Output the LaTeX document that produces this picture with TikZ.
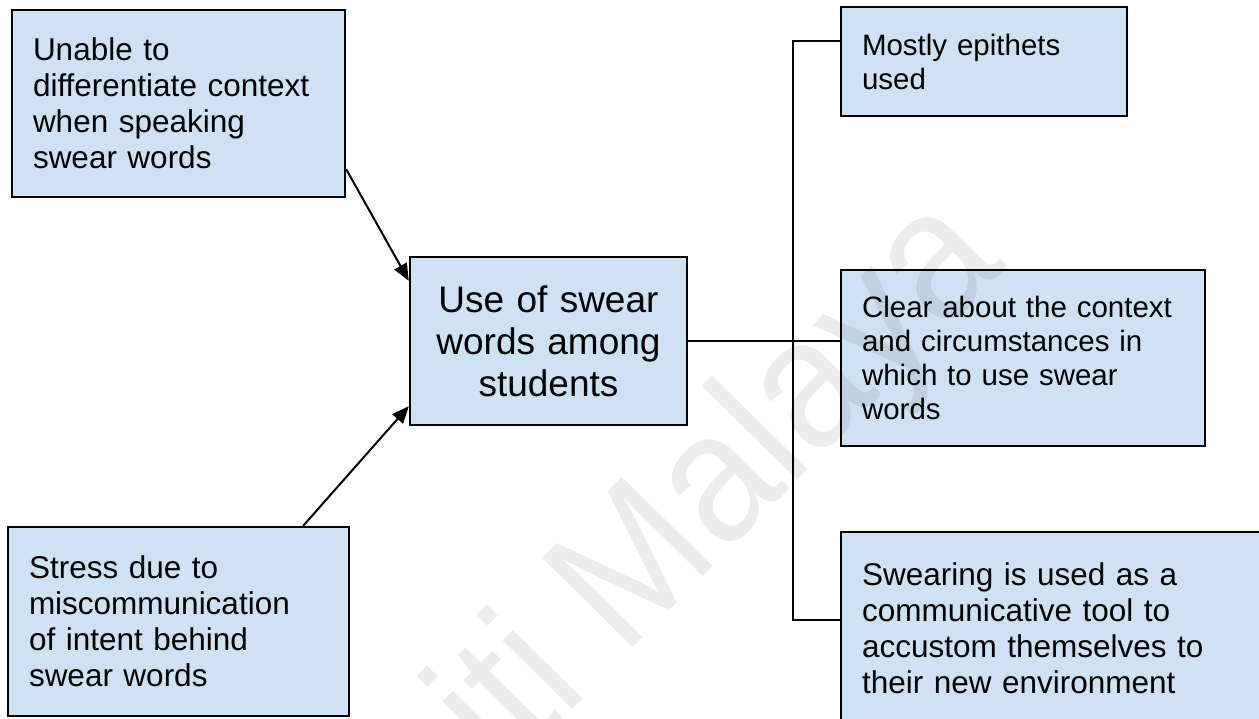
\documentclass[tikz,border=0pt]{standalone}
\usepackage{fontspec}
\setmainfont{Liberation Sans}
\newfontfamily\wmfont[FakeStretch=0.92]{Liberation Sans}
\usetikzlibrary{arrows.meta,calc}
\definecolor{boxblue}{HTML}{CFE2F3}
\begin{document}
\begin{tikzpicture}[x=1pt,y=-1pt,
  box/.style={draw=black, line width=2.4pt, fill=boxblue, inner xsep=21pt, inner ysep=0pt, align=left},
  conn/.style={line width=2pt, black},
  arr/.style={conn, -{Triangle[length=17pt,width=14pt]}},
  lfont/.style={font=\fontsize{31.5}{36}\selectfont},
  rfont/.style={font=\fontsize{29.5}{34}\selectfont},
  watermark/.style={rotate=45.5, anchor=base east, text=black, opacity=0.075, font=\wmfont\fontsize{185}{185}\selectfont}]
\fill[white] (0,0) rectangle (1259,718);
\useasboundingbox (0,0) rectangle (1259,718);

\node[box, lfont, minimum width=333pt, minimum height=187pt, text width=291pt] (A) at (178.5,103.5)
  {Unable to\\differentiate context\\when speaking\\swear words};
\node[box, lfont, minimum width=341pt, minimum height=189pt, text width=299pt] (B) at (178.5,621.5)
  {Stress due to\\miscommunication\\of intent behind\\swear words};
\node[box, align=center, font=\fontsize{37}{42}\selectfont, minimum width=277pt, minimum height=168pt, text width=235pt] (C) at (548.5,341)
  {Use of swear\\words among\\students};
\node[box, rfont, minimum width=286pt, minimum height=109pt, text width=244pt] (R1) at (984,61.5)
  {Mostly epithets\\used};
\node[box, rfont, minimum width=364pt, minimum height=176pt, text width=322pt] (R2) at (1023,358)
  {Clear about the context\\and circumstances in\\which to use swear\\words};
\node[box, lfont, minimum width=420pt, minimum height=192pt, text width=378pt] (R3) at (1051,628)
  {Swearing is used as a\\communicative tool to\\accustom themselves to\\their new environment};

\draw[arr] ($(A.south east)+(0,-29)$) -- ($(C.north west)+(0,25)$);
\draw[arr] ($(B.north east)+(-47,0)$) -- ($(C.south west)+(0,-20)$);
\draw[conn] (C.east) -- (C.east -| R2.west);
\coordinate (top) at ($(R1.north west)+(-47,35)$);
\draw[conn] ($(R1.north west)+(0,35)$) -- (top) |- ($(R3.north west)+(0,89)$);

\node[watermark] (wm) at (1011,263) {Universiti Malaya};
\end{tikzpicture}
\end{document}
